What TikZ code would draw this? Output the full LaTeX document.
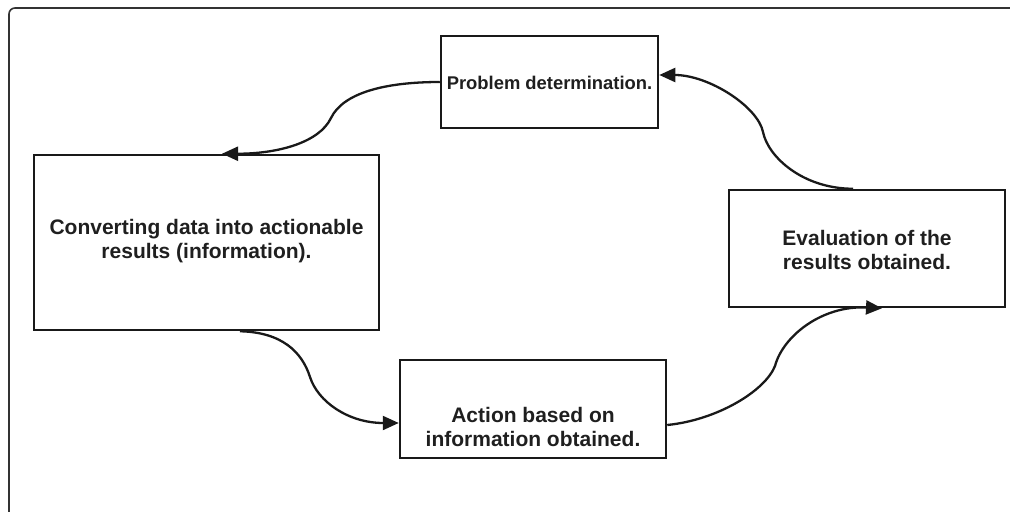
\documentclass[tikz,border=0pt]{standalone}
\usepackage{fontspec}
\setmainfont{Liberation Sans}
\usetikzlibrary{arrows.meta,calc}
\begin{document}
\begin{tikzpicture}[x=1bp,y=-1bp,
  stepbox/.style={draw=black!90,line width=2.5bp,rectangle,inner sep=0pt},
  txt/.style={align=center,text=black!88,font=\bfseries\fontsize{21bp}{24bp}\selectfont,inner sep=0pt},
  conn/.style={draw=black!90,line width=2.3bp,-{Triangle[length=16bp,width=14bp]}}]
\useasboundingbox (0,0) rectangle (1010,512);
% outer frame (cropped)
\draw[black!80,line width=1.6bp,rounded corners=6bp] (9,512) -- (9,8) -- (1010,8);
% boxes
\node[stepbox,minimum width=217bp,minimum height=92bp] (prob) at (549.5,82) {};
\node[stepbox,minimum width=345bp,minimum height=175bp] (conv) at (206.5,242.5) {};
\node[stepbox,minimum width=276bp,minimum height=117bp] (eval) at (867,248.5) {};
\node[stepbox,minimum width=266bp,minimum height=98bp] (act) at (533,409) {};
% texts
\node[txt,font=\bfseries\fontsize{18.4bp}{22bp}\selectfont] (probtxt) at (549.5,83) {Problem determination.};
\node[txt] (convtxt) at (206.5,241) {Converting data into actionable\\results (information).};
\node[txt] (evaltxt) at (867,249.5) {Evaluation of the\\results obtained.};
\node[txt] (acttxt) at (533,426.5) {Action based on\\information obtained.};
% connectors
\path[conn] (prob.west) .. controls +(-55,0) and +(12,-25) .. (331,118)
  .. controls +(-12,25) and +(55,0) .. ($(conv.north)+(15.5,0)$);
\path[conn] ($(conv.south)+(33.5,0)$) .. controls +(42,1) and +(-8,-25) .. (310,377)
  .. controls +(8,25) and +(-50,0) .. ($(act.west)+(0,14)$);
\path[conn] ($(act.east)+(0,16)$) .. controls +(50,-5) and +(-10,25) .. (775,366)
  .. controls +(8,-30) and +(-60,-3) .. ($(eval.south)+(15,0)$);
\path[conn] ($(eval.north)+(-14,0)$) .. controls +(-50,0) and +(5,25) .. (763,132)
  .. controls +(-5,-25) and +(50,0) .. ($(prob.east)+(0,-7)$);
\end{tikzpicture}
\end{document}
